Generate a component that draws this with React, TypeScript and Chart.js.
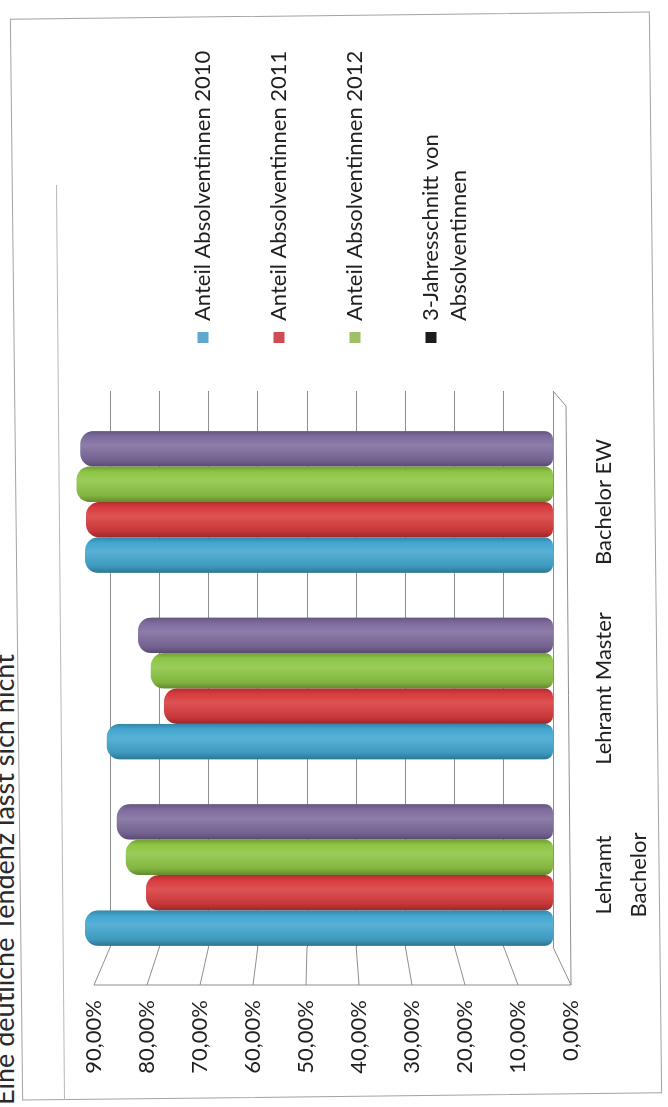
import React, { useEffect, useRef } from "react";
import { Chart, registerables } from "chart.js";

Chart.register(...registerables);

// ---------- data ----------
const categories: (string | string[])[] = [["Lehramt", "Bachelor"], "Lehramt Master", "Bachelor EW"];
const categoryPositions = [0, 1, 2];
const seriesNames = [
  "Anteil Absolventinnen 2010",
  "Anteil Absolventinnen 2011",
  "Anteil Absolventinnen 2012",
  "3-Jahresschnitt von Absolventinnen",
];
const legendLabels: string[][] = [
  ["Anteil Absolventinnen 2010"],
  ["Anteil Absolventinnen 2011"],
  ["Anteil Absolventinnen 2012"],
  ["3-Jahresschnitt von", "Absolventinnen"],
];
const anteil2010 = [88.3, 84.2, 88.3];
const anteil2011 = [76.8, 73.4, 88.1];
const anteil2012 = [80.6, 75.9, 89.9];
const dreiJahresschnitt = [82.3, 78.3, 89.2];
const tickValues = [0, 10, 20, 30, 40, 50, 60, 70, 80, 90];
const tickLabels = ["0,00%", "10,00%", "20,00%", "30,00%", "40,00%", "50,00%", "60,00%", "70,00%", "80,00%", "90,00%"];
const captionText = "Eine deutliche Tendenz lässt sich nicht";

// ---------- style ----------
const barColors = ["#42a6cf", "#d83b3d", "#8dc544", "#7d6b9d"];
const legendColors = ["#5ea8cd", "#cd4d53", "#9cc063", "#1c1c1c"];
const TEXT = "#1f1f1f";
const GRID = "#8e8e8e";
const FONT = "Lato, 'Open Sans', sans-serif";
const FONT_SIZE = 22;

// unrotated drawing frame
const W = 1107;
const H = 668;
const Y_AXIS_WIDTH = 160;
const X_AXIS_HEIGHT = 115;
const LEGEND_PAD = 48;
const LEGEND_BOX = 11;
const LEGEND_LEFT = 716;
const X_MIN = -0.386;
const X_MAX = 2.595;
const BAR_MAX = 104.34;
const BACK_MAX = 112.4;
const FRONT_MIN = 3.4;
const FRONT_MAX = 107.74;
const SIDE_DEPTH = 38;
const FLOOR_DEPTH_RIGHT = 15;

function shade(hex: string, amt: number): string {
  const n = parseInt(hex.slice(1), 16);
  let r = (n >> 16) & 255, g = (n >> 8) & 255, b = n & 255;
  const t = amt < 0 ? 0 : 255;
  const p = Math.abs(amt);
  r = Math.round(r + (t - r) * p);
  g = Math.round(g + (t - g) * p);
  b = Math.round(b + (t - b) * p);
  return `rgb(${r},${g},${b})`;
}

const cylinderPlugin = {
  id: "cylinder",
  beforeDatasetDraw(chart: any, args: any) {
    const ctx = chart.ctx as CanvasRenderingContext2D;
    const color = barColors[args.index];
    args.meta.data.forEach((el: any) => {
      const { x, width } = el.getProps(["x", "width"], true);
      const g = ctx.createLinearGradient(x - width / 2, 0, x + width / 2, 0);
      g.addColorStop(0, shade(color, -0.3));
      g.addColorStop(0.18, shade(color, -0.08));
      g.addColorStop(0.6, shade(color, 0.12));
      g.addColorStop(0.85, color);
      g.addColorStop(1, shade(color, -0.2));
      el.options.backgroundColor = g;
    });
  },
};

const wallPlugin = {
  id: "wall3d",
  beforeDatasetsDraw(chart: any) {
    const { ctx, chartArea, scales } = chart;
    const back = scales.yBack;
    const front = scales.y;
    const left = chartArea.left;
    const right = chartArea.right;
    const fx = left - SIDE_DEPTH;
    ctx.save();
    ctx.strokeStyle = GRID;
    ctx.lineWidth = 1;
    ctx.beginPath();
    tickValues.forEach((t) => {
      ctx.moveTo(left, back.getPixelForValue(t));
      ctx.lineTo(fx, front.getPixelForValue(t));
    });
    const f0 = front.getPixelForValue(0);
    ctx.moveTo(fx, front.getPixelForValue(tickValues[tickValues.length - 1]));
    ctx.lineTo(fx, f0);
    ctx.lineTo(right - FLOOR_DEPTH_RIGHT, f0 - 5);
    ctx.lineTo(right, back.getPixelForValue(0));
    ctx.stroke();
    ctx.restore();
  },
};

export default function App() {
  const canvasRef = useRef<HTMLCanvasElement>(null);

  useEffect(() => {
    const canvas = canvasRef.current;
    if (!canvas) return;
    const mctx = canvas.getContext("2d")!;
    mctx.font = `${FONT_SIZE}px ${FONT}`;
    const widest = Math.max(...legendLabels.flat().map((t) => mctx.measureText(t).width));
    const legendWidth = LEGEND_PAD + LEGEND_BOX + FONT_SIZE / 2 + widest + 10;
    const padRight = Math.max(0, W - LEGEND_LEFT - legendWidth);

    const series = [anteil2010, anteil2011, anteil2012, dreiJahresschnitt];
    const tickFont = { family: FONT, size: FONT_SIZE };

    const chart = new Chart(canvas, {
      type: "bar",
      data: {
        datasets: series.map((vals, si) => ({
          label: seriesNames[si],
          data: vals.map((v, i) => ({ x: categoryPositions[i], y: v })),
          backgroundColor: () => barColors[si],
          borderWidth: 0,
          borderSkipped: false,
          borderRadius: { topLeft: 13, topRight: 13, bottomLeft: 8, bottomRight: 8 },
          categoryPercentage: 0.76,
          barPercentage: 1.0,
          xAxisID: "x",
          yAxisID: "yBar",
        })),
      },
      options: {
        responsive: false,
        animation: false,
        events: [],
        layout: { padding: { left: 0, top: 0, right: padRight, bottom: 0 } },
        plugins: {
          tooltip: { enabled: false },
          legend: {
            position: "right",
            align: "center",
            maxWidth: Math.ceil(legendWidth),
            labels: {
              boxWidth: LEGEND_BOX,
              boxHeight: LEGEND_BOX,
              padding: LEGEND_PAD,
              color: TEXT,
              font: { family: FONT, size: FONT_SIZE, lineHeight: 28 / FONT_SIZE },
              generateLabels: () =>
                legendLabels.map((txt, i) => ({
                  text: txt as any,
                  fillStyle: legendColors[i],
                  strokeStyle: legendColors[i],
                  lineWidth: 0,
                  hidden: false,
                  datasetIndex: i,
                  fontColor: TEXT,
                })) as any,
            },
          },
        },
        scales: {
          x: {
            type: "linear",
            position: "bottom",
            offset: false,
            bounds: "data",
            min: X_MIN,
            max: X_MAX,
            afterBuildTicks: (axis: any) => {
              axis.ticks = categoryPositions.map((v) => ({ value: v }));
            },
            afterFit: (axis: any) => {
              axis.height = X_AXIS_HEIGHT;
              axis.paddingLeft = 0;
              axis.paddingRight = 0;
            },
            grid: { display: false, drawTicks: false, offset: false },
            border: { display: false },
            ticks: {
              autoSkip: false,
              maxRotation: 0,
              padding: 33,
              color: TEXT,
              font: { family: FONT, size: FONT_SIZE, lineHeight: 35 / FONT_SIZE },
              callback: (_v: any, i: number) => categories[i] as any,
            },
          },
          y: {
            type: "linear",
            position: "left",
            min: FRONT_MIN,
            max: FRONT_MAX,
            afterBuildTicks: (axis: any) => {
              axis.ticks = tickValues.map((v) => ({ value: v }));
            },
            afterFit: (axis: any) => {
              axis.width = Y_AXIS_WIDTH;
              axis.paddingTop = 0;
              axis.paddingBottom = 0;
            },
            grid: { display: false, drawTicks: false },
            border: { display: false },
            ticks: {
              padding: 53,
              color: TEXT,
              font: tickFont,
              callback: (_v: any, i: number) => tickLabels[i],
            },
          },
          yBack: {
            type: "linear",
            position: "left",
            min: 0,
            max: BACK_MAX,
            afterBuildTicks: (axis: any) => {
              axis.ticks = tickValues.map((v) => ({ value: v }));
            },
            afterFit: (axis: any) => {
              axis.width = 0;
              axis.paddingTop = 0;
              axis.paddingBottom = 0;
            },
            grid: { color: GRID, lineWidth: 1, drawTicks: false },
            border: { display: false },
            ticks: { display: false },
          },
          yBar: {
            type: "linear",
            display: false,
            min: 0,
            max: BAR_MAX,
          },
        },
      } as any,
      plugins: [wallPlugin, cylinderPlugin],
    });
    return () => chart.destroy();
  }, []);

  return (
    <div style={{ position: "fixed", left: 0, top: 0, width: 668, height: 1107, overflow: "hidden", background: "#ffffff" }}>
      <div
        style={{
          position: "absolute",
          left: 0,
          top: 0,
          width: W,
          height: H,
          transformOrigin: "0 0",
          transform: `translate(0px, ${W}px) rotate(-90deg)`,
        }}
      >
        <div
          style={{
            position: "absolute",
            left: 2,
            top: -10,
            fontFamily: FONT,
            fontSize: 27,
            lineHeight: "27px",
            color: "#2a2a2a",
            whiteSpace: "nowrap",
          }}
        >
          {captionText}
        </div>
        <div
          style={{
            position: "absolute",
            left: 10,
            top: 16,
            width: 1082,
            height: 640,
            border: "1px solid #a3a3a3",
            boxSizing: "border-box",
            transform: "rotate(-0.65deg)",
          }}
        />
        <div style={{ position: "absolute", left: 7, top: 60, width: 915, height: 0, borderTop: "1px solid #b8b8b8", transform: "rotate(-0.5deg)" }} />
        <canvas ref={canvasRef} width={W} height={H} style={{ position: "absolute", left: 0, top: 0, display: "block" }} />
      </div>
    </div>
  );
}
